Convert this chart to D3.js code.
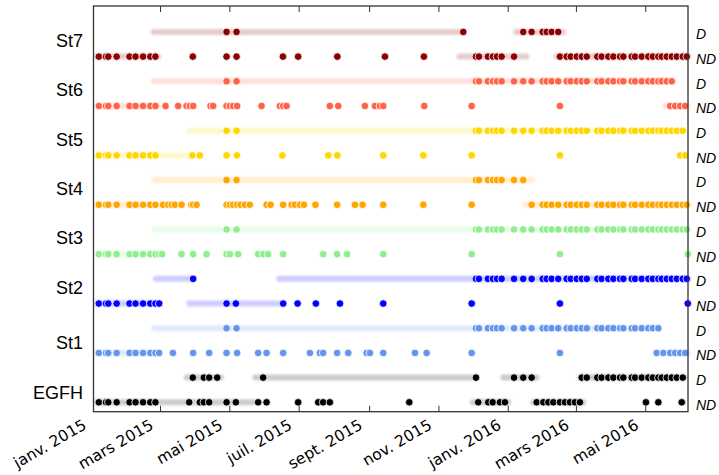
<!DOCTYPE html>
<html lang="fr">
<head>
<meta charset="UTF-8">
<title>Stations D / ND</title>
<script src="https://d3js.org/d3.v7.min.js"></script>
<style>
body { margin: 0; padding: 0; background: #fff; }
svg { display: block; }
.station { font-family: "Liberation Sans", Arial, sans-serif; font-size: 18px; fill: #000; }
.state { font-family: "Liberation Sans", Arial, sans-serif; font-size: 14px; font-style: italic; fill: #000; }
.tick-label { font-family: "DejaVu Sans", sans-serif; font-size: 15.5px; fill: #000; }
</style>
</head>
<body>
<svg width="719" height="475"></svg>
<script>
// jours depuis le 1er janvier 2015
const winter2015 = [4.7, 11.0, 13.0, 20.4, 31.7, 37.0, 43.6, 50.0, 54.5];
const s2016 = [336.6, 339.2, 347.1, 351.5, 355.1, 359.2, 370.1, 378.2, 385.6, 395.3,
    398.8, 403.2, 409.0, 416.4, 420.0, 425.3, 429.7, 434.1, 443.4, 447.2,
    453.1, 457.5, 463.4, 466.3, 473.7, 476.6, 482.5, 488.3, 492.2, 497.1,
    500.1, 504.5, 508.9, 513.3, 518.6, 522.1];

const stations = ["EGFH", "St1", "St2", "St3", "St4", "St5", "St6", "St7"];
const colors = ["#000000", "#6495ed", "#0000ff", "#90ee90", "#ffa500", "#ffd700", "#ff6347", "#8b0000"];
const labelRows = [0.4, 2.4, 4.65, 6.65, 8.65, 10.65, 12.65, 14.65];
const stateLabels = ["ND", "D"];

const st7D = [117.1, 125.9, 325.4, ...s2016.slice(7, 13)];
const st7DBands = [[53, 325.4], [372, 413.6]];
const st7ND = [...winter2015, 87.4, 117.1, 125.9, 166.7, 180.1, 214.6, 256.5, 290.8,
    ...s2016.slice(0, 7), 410.5, ...s2016.slice(13)];
const st7NDBands = [[3, 57], [322, 381], [407.6, 523]];

const st6D = [117.1, 125.9, ...s2016.slice(0, 33)];
const st6DBands = [[53, 510]];
const st6ND = [...winter2015, 63.4, 74.5, 81.9, 84.8, 87.7, 103.0, 105.3, 117.1, 120.0, 122.9,
    126.4, 147.9, 164.0, 166.9, 169.9, 208.0, 215.4, 238.9, 247.7, 252.1, 255.0, 291.1,
    332.8, 410.5, 507.5, 511.9, 516.3, 520.7];
const st6NDBands = [[3, 57], [503, 523]];

const st5D = [117.1, 125.9, ...s2016.slice(0, 35)];
const st5DBands = [[84, 519]];
const st5ND = [...winter2015, 87.0, 93.6, 117.1, 126.2, 166.2, 206.6, 214.6, 255.0, 290.3,
    332.8, 410.5, 516.3, 520.7];
const st5NDBands = [[3, 85]];

const st4D = [117.1, 125.9, ...s2016.slice(0, 8)];
const st4DBands = [[53.6, 386]];
const st4ND = [...winter2015, 61.3, 65.7, 68.7, 71.6, 77.5, 86.0, 87.7, 90.7, 117.1, 120.0,
    122.9, 126.4, 129.4, 133.2, 137.6, 152.3, 155.8, 166.9, 174.3, 177.2, 181.6, 185.2,
    195.3, 214.4, 230.1, 236.8, 255.0, 290.3, 332.8, ...s2016.slice(8)];
const st4NDBands = [[3, 57], [380, 523]];

const st3D = [117.1, 125.9, ...s2016];
const st3DBands = [[53.6, 523]];
const st3ND = [...winter2015, 57.8, 60.4, 77.5, 87.7, 99.5, 117.1, 120.0, 127.3, 144.9, 149.3,
    153.7, 166.9, 202.1, 214.4, 223.2, 255.0, 332.8, 410.5, 523.0];
const st3NDBands = [[3, 57]];

const st2D = [87.7, ...s2016];
const st2DBands = [[54.9, 87.7], [163.4, 523]];
const st2ND = [...winter2015, 57.8, 117.1, 125.3, 166.9, 179.6, 195.7, 216.9, 255.0, 332.8,
    410.5, 523.0];
const st2NDBands = [[3, 57], [84.5, 163.4]];

const st1D = [117.1, 125.9, ...s2016.slice(0, 30)];
const st1DBands = [[53.6, 497]];
const st1ND = [...winter2015, 57.8, 69.9, 87.7, 101.8, 117.1, 126.4, 144.9, 152.3, 166.9, 190.5,
    199.2, 202.1, 214.4, 224.2, 240.4, 243.3, 255.0, 282.9, 293.2, 332.8, 410.5, 495.7,
    501.5, 507.5, 511.9, 516.3, 520.7];
const st1NDBands = [[3, 57], [494, 523]];

const egfhD = [87.4, 97.1, 101.8, 108.9, 149.3, 336.6, 370.1, 378.2, 385.6, ...s2016.slice(16, 35)];
const egfhDBands = [[82, 112], [142.5, 336], [360.6, 390], [428, 519]];
const egfhND = [...winter2015, 84.2, 93.6, 97.1, 101.8, 117.1, 125.3, 144.9, 152.3, 180.1, 197.8,
    202.1, 208.0, 277.9, 338.6, 347.4, 351.3, 357.7, 362.1, 390.0, 395.9, 400.3, 404.7,
    410.5, 414.9, 419.3, 423.7, 428.1, 486.2, 497.1, 517.7];
const egfhNDBands = [[3, 140.5], [334, 365], [387, 431]];

const tickMonths = ["2015-01-01", "2015-03-01", "2015-05-01", "2015-07-01", "2015-09-01",
    "2015-11-01", "2016-01-01", "2016-03-01", "2016-05-01"];
const tickLabels = ["janv. 2015", "mars 2015", "mai 2015", "juil. 2015", "sept. 2015",
    "nov. 2015", "janv. 2016", "mars 2016", "mai 2016"];

// lignes : de bas (EGFH ND) en haut (St7 D)
const rows = [
    [egfhND, egfhNDBands], [egfhD, egfhDBands],
    [st1ND, st1NDBands], [st1D, st1DBands],
    [st2ND, st2NDBands], [st2D, st2DBands],
    [st3ND, st3NDBands], [st3D, st3DBands],
    [st4ND, st4NDBands], [st4D, st4DBands],
    [st5ND, st5NDBands], [st5D, st5DBands],
    [st6ND, st6NDBands], [st6D, st6DBands],
    [st7ND, st7NDBands], [st7D, st7DBands]
];

const svg = d3.select("svg");
const t0 = Date.UTC(2015, 0, 1);
const toDate = d => new Date(t0 + d * 864e5);

const x = d3.scaleUtc()
    .domain([new Date(t0), new Date(Date.UTC(2016, 5, 7, 5))])
    .range([93.5, 688]);
const y = d3.scaleLinear()
    .domain([-0.38, 16.05])
    .range([411.7, 6]);

const defs = svg.append("defs");
defs.append("filter").attr("id", "soft")
    .attr("x", "-5%").attr("y", "-100%").attr("width", "110%").attr("height", "300%")
    .append("feGaussianBlur").attr("stdDeviation", 1.3);

// bandes (périodes)
const bandG = svg.append("g").attr("filter", "url(#soft)");
rows.forEach(([days, bands], i) => {
    const c = colors[Math.floor(i / 2)];
    bandG.selectAll(null)
        .data(bands)
        .enter()
        .append("line")
        .attr("x1", d => x(toDate(d[0])))
        .attr("x2", d => x(toDate(d[1])))
        .attr("y1", y(i))
        .attr("y2", y(i))
        .attr("stroke", c)
        .attr("stroke-opacity", 0.2)
        .attr("stroke-width", 6)
        .attr("stroke-linecap", "round");
});

// points
rows.forEach(([days, bands], i) => {
    const c = colors[Math.floor(i / 2)];
    svg.append("g").selectAll("circle")
        .data(days)
        .enter()
        .append("circle")
        .attr("cx", d => x(toDate(d)))
        .attr("cy", y(i))
        .attr("r", 3.8)
        .attr("fill", c)
        .attr("stroke", "#fff")
        .attr("stroke-width", 0.8);
});

// cadre
svg.append("rect")
    .attr("x", x.range()[0])
    .attr("y", y.range()[1])
    .attr("width", x.range()[1] - x.range()[0])
    .attr("height", y.range()[0] - y.range()[1])
    .attr("fill", "none")
    .attr("stroke", "#333")
    .attr("stroke-width", 1.3);

const ticks = tickMonths.map(s => new Date(s + "T00:00:00Z"));
svg.append("g").selectAll("line.top")
    .data(ticks).enter().append("line")
    .attr("x1", d => x(d)).attr("x2", d => x(d))
    .attr("y1", y.range()[1]).attr("y2", y.range()[1] + 6)
    .attr("stroke", "#333");
svg.append("g").selectAll("line.bottom")
    .data(ticks).enter().append("line")
    .attr("x1", d => x(d)).attr("x2", d => x(d))
    .attr("y1", y.range()[0]).attr("y2", y.range()[0] - 6)
    .attr("stroke", "#333");

svg.append("g").selectAll("text")
    .data(ticks).enter().append("text")
    .attr("class", "tick-label")
    .attr("text-anchor", "end")
    .attr("transform", d => `translate(${x(d) - 6},428) rotate(-30)`)
    .text((d, i) => tickLabels[i]);

// étiquettes des stations
svg.append("g").selectAll("text")
    .data(stations).enter().append("text")
    .attr("class", "station")
    .attr("x", 83)
    .attr("y", (d, i) => y(labelRows[i]))
    .attr("dy", "0.35em")
    .attr("text-anchor", "end")
    .text(d => d);

// D / ND à droite
svg.append("g").selectAll("text")
    .data(rows).enter().append("text")
    .attr("class", "state")
    .attr("x", 696)
    .attr("y", (d, i) => y(i) + 2.5)
    .attr("dy", "0.35em")
    .text((d, i) => stateLabels[i % 2]);
</script>
</body>
</html>
